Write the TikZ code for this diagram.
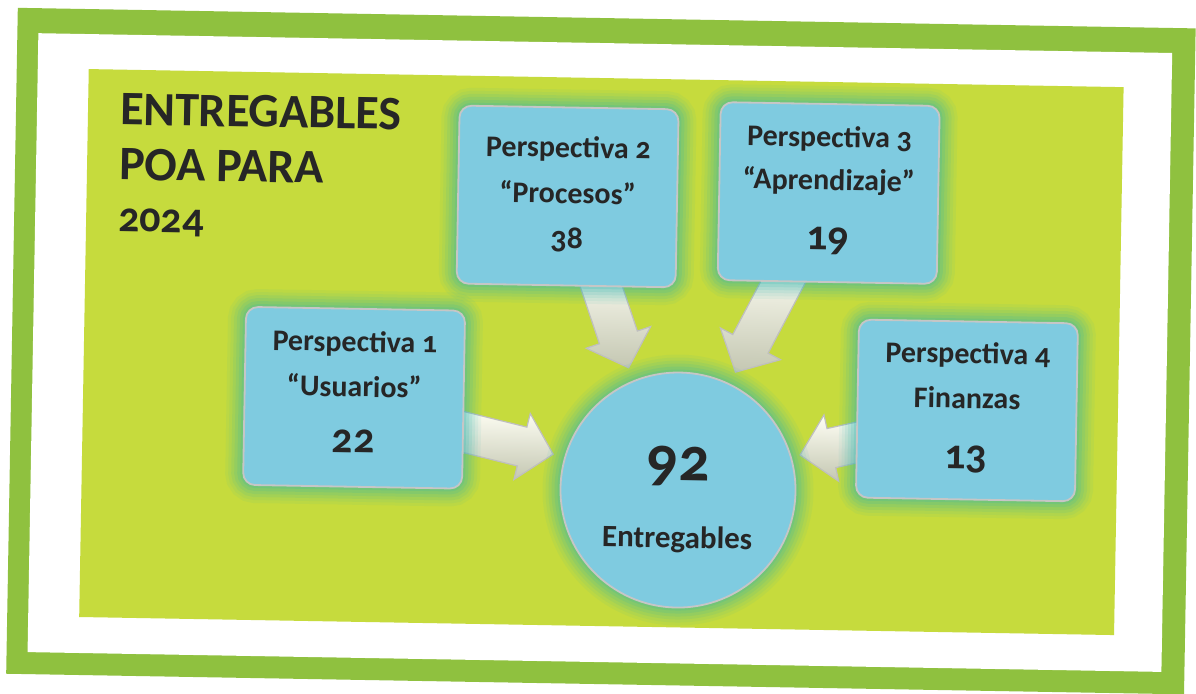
\documentclass[tikz,border=0pt]{standalone}
\usepackage{fontspec}
\setmainfont{Carlito}[Numbers=OldStyle]
\usetikzlibrary{calc,positioning}

\definecolor{marco}{HTML}{8FC13F}
\definecolor{lima}{HTML}{C6DB3D}
\definecolor{azulcaja}{HTML}{7FCBE0}
\definecolor{brillo}{HTML}{2FB5AE}
\definecolor{grisflecha}{HTML}{C4C7B2}
\definecolor{tinta}{HTML}{262626}

\pgfdeclarelayer{fondo}
\pgfdeclarelayer{flechas}
\pgfsetlayers{fondo,flechas,main}

% flecha ancha de #1 a #2
\newcommand{\flecha}[2]{%
  \coordinate (fh) at ($(#2)!16pt!(#1)$);
  \path[cuerpoflecha] ($(#1)!10pt!90:(#2)$) -- ($(fh)!10pt!90:(#2)$)
    -- ($(fh)!17pt!90:(#2)$) -- (#2) -- ($(fh)!17pt!-90:(#2)$)
    -- ($(fh)!10pt!-90:(#2)$) -- ($(#1)!10pt!-90:(#2)$) -- cycle;}

\tikzset{
  giro/.style={transform canvas={rotate around={-1:(598,346)}}},
  halo/.style={preaction={draw=brillo, line width=18pt, opacity=.07},
               preaction={draw=brillo, line width=15pt, opacity=.08},
               preaction={draw=brillo, line width=12pt, opacity=.1},
               preaction={draw=brillo, line width=9pt, opacity=.12},
               preaction={draw=brillo, line width=6pt, opacity=.15},
               preaction={draw=brillo, line width=3pt, opacity=.2}},
  caja/.style={rectangle, rounded corners=6pt, halo, fill=azulcaja, draw=gray!45,
               line width=.9pt, minimum width=109.5pt, minimum height=89pt, inner sep=0pt},
  total/.style={circle, halo, fill=azulcaja, draw=gray!45, line width=.9pt,
                minimum size=117.5pt, inner sep=0pt},
  linea/.style={anchor=base, inner sep=0pt, text=tinta, font=\bfseries\fontsize{15}{18}\selectfont},
  cifra/.style={linea, font=\bfseries\fontsize{21}{24}\selectfont},
  titulo/.style={anchor=base west, inner sep=0pt, text=tinta, font=\bfseries\fontsize{24}{28}\selectfont},
  cuerpoflecha/.style={draw=gray!50, line width=.6pt, top color=white!96!yellow, bottom color=grisflecha}
}

\begin{document}
\begin{tikzpicture}[x=0.5pt, y=-0.5pt]
  \useasboundingbox (0,0) rectangle (1196,693);

  % Fondo: marco verde, blanco y panel lima
  \begin{pgfonlayer}{fondo}
    \fill[white] (0,0) rectangle (1196,693);
    \begin{scope}[giro]
      \fill[marco] (12,18) rectangle (1190,684);
      \fill[white] (33,43) rectangle (1167,662);
      \fill[lima] (84,78) rectangle (1119,626);
    \end{scope}
  \end{pgfonlayer}

  \begin{scope}[giro]
    % Titulo
    \node[titulo] (tit1) at (116,133) {ENTREGABLES};
    \node[titulo] (tit2) at (116,188) {POA PARA};
    \node[titulo, font=\bfseries\fontsize{21}{24}\selectfont] (tit3) at (116,240) {2024};

    % Perspectiva 1
    \node[caja] (usu) at (355,402) {};
    \node[linea] (usu1) at ($(usu)+(0,-46)$) {Perspectiva 1};
    \node[linea] (usu2) at ($(usu)+(0,-1)$) {“Usuarios”};
    \node[cifra] (usu3) at ($(usu)+(0,55)$) {22};

    % Perspectiva 2
    \node[caja] (pro) at (565,197) {};
    \node[linea] (pro1) at ($(pro)+(0,-39)$) {Perspectiva 2};
    \node[linea] (pro2) at ($(pro)+(0,7)$) {“Procesos”};
    \node[linea, font=\bfseries\fontsize{16}{18}\selectfont] (pro3) at ($(pro)+(0,52)$) {38};

    % Perspectiva 3
    \node[caja] (apr) at (826,189) {};
    \node[linea] (apr1) at ($(apr)+(0,-46)$) {Perspectiva 3};
    \node[linea] (apr2) at ($(apr)+(0,-3)$) {“Aprendizaje”};
    \node[cifra] (apr3) at ($(apr)+(0,57)$) {19};

    % Perspectiva 4
    \node[caja] (fin) at (968,404) {};
    \node[linea] (fin1) at ($(fin)+(0,-47)$) {Perspectiva 4};
    \node[linea] (fin2) at ($(fin)+(0,-2)$) {Finanzas};
    \node[cifra] (fin3) at ($(fin)+(0,58)$) {13};

    % Total
    \node[total] (tot) at (680.5,488.6) {};
    \node[linea, font=\bfseries\fontsize{31}{34}\selectfont] (tot1) at ($(tot)+(0,-10)$) {92};
    \node[linea, font=\bfseries\fontsize{15.5}{18}\selectfont] (tot2) at ($(tot)+(0,58)$) {Entregables};
  \end{scope}

  % Flechas hacia el total
  \begin{pgfonlayer}{flechas}
    \begin{scope}[giro]
      \coordinate (s1) at ($(usu.center)!0.84!(usu.-17)$);
      \coordinate (e1) at ($(tot.center)!1.097!(tot.165)$);
      \flecha{s1}{e1}
      \coordinate (s2) at ($(pro.center)!0.79!(pro.-68)$);
      \coordinate (e2) at ($(tot.center)!1.114!(tot.113)$);
      \flecha{s2}{e2}
      \coordinate (s3) at ($(apr.center)!0.83!(apr.-116)$);
      \coordinate (e3) at ($(tot.center)!1.108!(tot.65)$);
      \flecha{s3}{e3}
      \coordinate (s4) at ($(fin.center)!0.81!(fin.198)$);
      \coordinate (e4) at ($(tot.center)!1.073!(tot.17)$);
      \flecha{s4}{e4}
    \end{scope}
  \end{pgfonlayer}
\end{tikzpicture}
\end{document}
